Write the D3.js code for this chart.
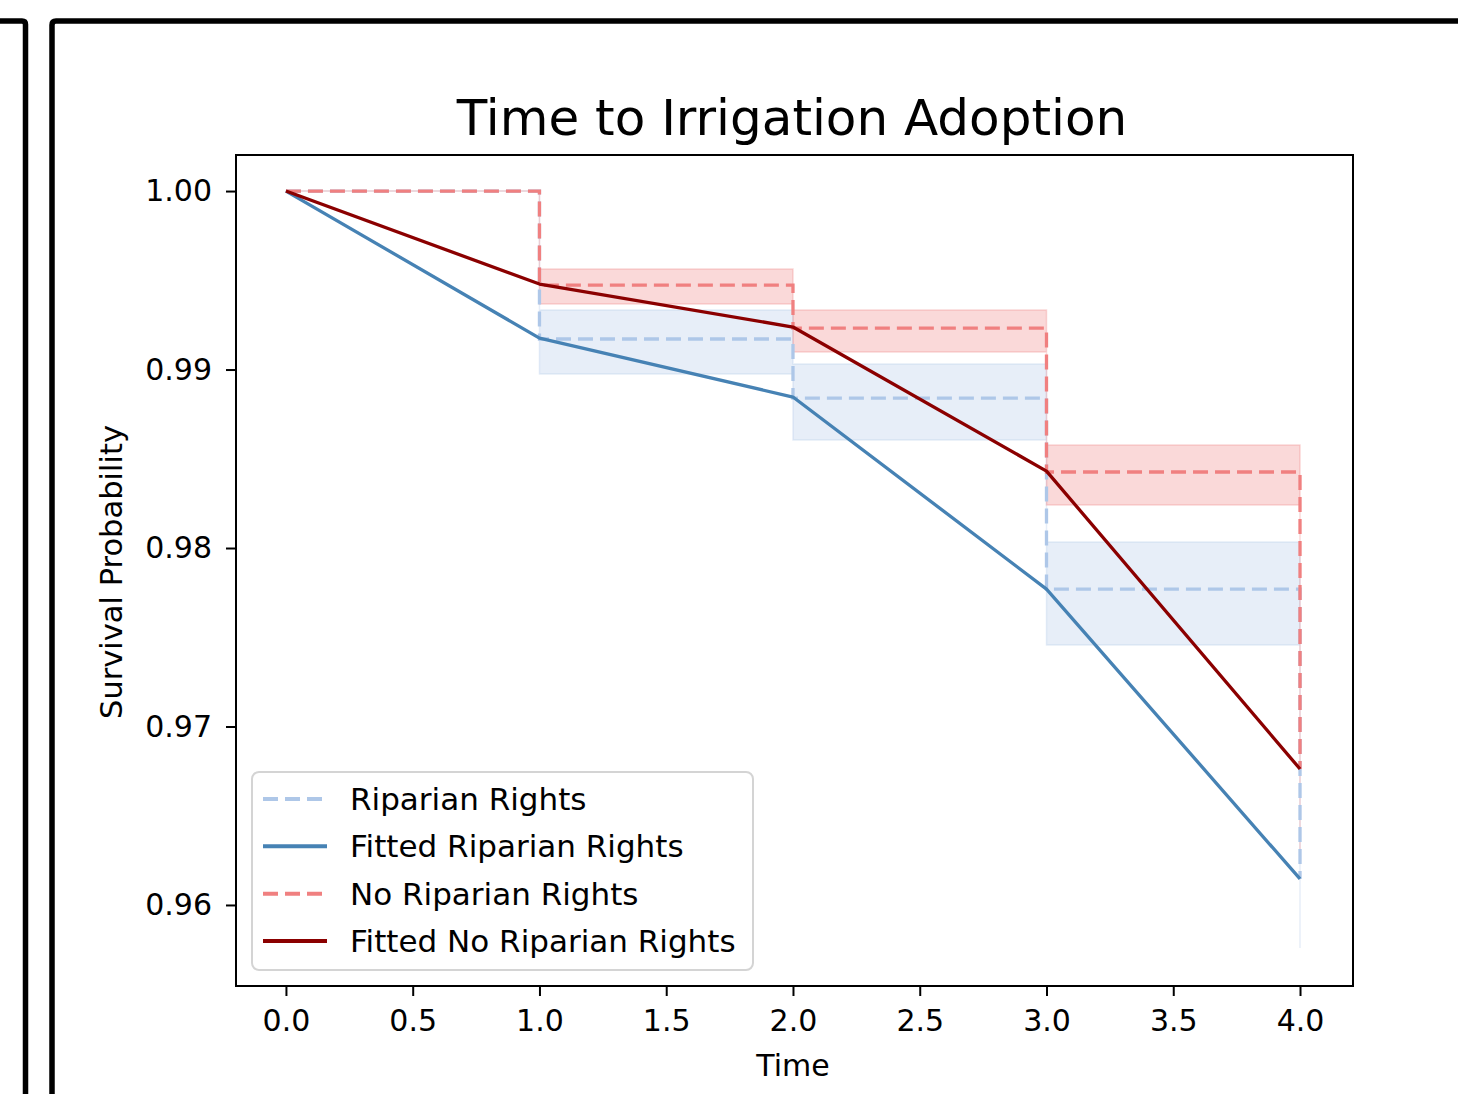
<!DOCTYPE html>
<html>
<head>
<meta charset="utf-8">
<script src="https://cdn.jsdelivr.net/npm/d3@7"></script>
<style>
	html, body { margin: 0; padding: 0; background: #fff; }
	svg { display: block; font-family: 'DejaVu Sans', sans-serif; }
</style>
</head>
<body>
<svg width="1458" height="1094"></svg>
<script>
/* eslint-disable indent */

const chartTitle = 'Time to Irrigation Adoption';
const xLabel = 'Time';
const yLabel = 'Survival Probability';

const times = [0, 1, 2, 3, 4];
const xTicks = [0, 0.5, 1, 1.5, 2, 2.5, 3, 3.5, 4];
const yTicks = [0.96, 0.97, 0.98, 0.99, 1.00];

// Kaplan-Meier estimates with confidence bands, plus fitted curves
const kmRiparian = [1.0, 0.99171, 0.98840, 0.97770, 0.96146];
const kmRiparianLower = [1.0, 0.98975, 0.98605, 0.97457, 0.95759];
const kmRiparianUpper = [1.0, 0.99333, 0.99031, 0.98034, 0.96550];
const fitRiparian = [1.0, 0.99176, 0.98846, 0.97770, 0.96146];

const kmNoRiparian = [1.0, 0.99473, 0.99232, 0.98426, 0.96762];
const kmNoRiparianLower = [1.0, 0.99367, 0.99098, 0.98241, 0.96300];
const kmNoRiparianUpper = [1.0, 0.99563, 0.99333, 0.98577, 0.97150];
const fitNoRiparian = [1.0, 0.99479, 0.99238, 0.98431, 0.96762];

const legendLabels = ['Riparian Rights', 'Fitted Riparian Rights', 'No Riparian Rights', 'Fitted No Riparian Rights'];

const kmBlue = '#aec7e8';
const fitBlue = '#4682b4';
const kmRed = '#f08080';
const fitRed = '#8b0000';

const svg = d3.select('svg');

// outer page frames
svg.append('path')
	.attr('d', 'M0,21 H22 Q25.5,21 25.5,24.5 V1094')
	.attr('fill', 'none')
	.attr('stroke', '#000')
	.attr('stroke-width', 5.5);

svg.append('path')
	.attr('d', 'M1458,21 H56 Q52,21 52,25 V1094')
	.attr('fill', 'none')
	.attr('stroke', '#000')
	.attr('stroke-width', 5.5);

const box = { left: 236, right: 1353, top: 155, bottom: 986 };

const x = d3.scaleLinear()
	.domain([-0.197, 4.209])
	.range([box.left, box.right]);

const y = d3.scaleLinear()
	.domain([0.95546, 1.00202])
	.range([box.bottom, box.top]);

const plot = svg.append('g');

const series = [
	{ km: kmRiparian, lo: kmRiparianLower, hi: kmRiparianUpper, fit: fitRiparian, light: kmBlue, dark: fitBlue },
	{ km: kmNoRiparian, lo: kmNoRiparianLower, hi: kmNoRiparianUpper, fit: fitNoRiparian, light: kmRed, dark: fitRed },
];

const band = d3.area()
	.curve(d3.curveStepAfter)
	.x((d) => x(d.t))
	.y0((d) => y(d.lo))
	.y1((d) => y(d.hi));

const step = d3.line()
	.curve(d3.curveStepAfter)
	.x((d) => x(d.t))
	.y((d) => y(d.v));

const straight = d3.line()
	.x((d) => x(d.t))
	.y((d) => y(d.v));

series.forEach((s) => {
	const rows = times.map((t, i) => ({ t: t, lo: s.lo[i], hi: s.hi[i] }));
	plot.append('path')
		.attr('d', band(rows))
		.attr('fill', s.light)
		.attr('fill-opacity', 0.3)
		.attr('stroke', s.light)
		.attr('stroke-opacity', 0.3)
		.attr('stroke-width', 1.5);
});

series.forEach((s) => {
	plot.append('path')
		.attr('d', step(times.map((t, i) => ({ t: t, v: s.km[i] }))))
		.attr('fill', 'none')
		.attr('stroke', s.light)
		.attr('stroke-width', 3.3)
		.attr('stroke-dasharray', '15,7');

	plot.append('path')
		.attr('d', straight(times.map((t, i) => ({ t: t, v: s.fit[i] }))))
		.attr('fill', 'none')
		.attr('stroke', s.dark)
		.attr('stroke-width', 3.3)
		.attr('stroke-linejoin', 'round');
});

// axes frame
svg.append('rect')
	.attr('x', box.left)
	.attr('y', box.top)
	.attr('width', box.right - box.left)
	.attr('height', box.bottom - box.top)
	.attr('fill', 'none')
	.attr('stroke', '#000')
	.attr('stroke-width', 2);

const xAxis = svg.append('g')
	.attr('transform', `translate(0,${box.bottom})`)
	.call(d3.axisBottom(x)
		.tickValues(xTicks)
		.tickFormat(d3.format('.1f'))
		.tickSize(10)
		.tickPadding(14));

const yAxis = svg.append('g')
	.attr('transform', `translate(${box.left},0)`)
	.call(d3.axisLeft(y)
		.tickValues(yTicks)
		.tickFormat(d3.format('.2f'))
		.tickSize(10)
		.tickPadding(14));

[xAxis, yAxis].forEach((a) => {
	a.select('.domain').remove();
	a.selectAll('.tick line')
		.attr('stroke', '#000')
		.attr('stroke-width', 2);
	a.selectAll('.tick text')
		.attr('fill', '#000')
		.style('font-family', 'DejaVu Sans')
		.style('font-size', '30px');
});

svg.append('text')
	.attr('x', 792)
	.attr('y', 135)
	.attr('text-anchor', 'middle')
	.style('font-size', '50px')
	.text(chartTitle);

svg.append('text')
	.attr('x', 793)
	.attr('y', 1076)
	.attr('text-anchor', 'middle')
	.style('font-size', '30px')
	.text(xLabel);

svg.append('text')
	.attr('transform', 'translate(122,572) rotate(-90)')
	.attr('text-anchor', 'middle')
	.style('font-size', '30.5px')
	.text(yLabel);

// legend
const legend = svg.append('g');

legend.append('rect')
	.attr('x', 252)
	.attr('y', 772)
	.attr('width', 501)
	.attr('height', 198)
	.attr('rx', 7)
	.attr('fill', '#fff')
	.attr('fill-opacity', 0.8)
	.attr('stroke', '#d4d4d4')
	.attr('stroke-width', 2);

const legendStyles = [
	{ color: kmBlue, dash: '15,7' },
	{ color: fitBlue, dash: null },
	{ color: kmRed, dash: '15,7' },
	{ color: fitRed, dash: null },
];

const rowY = d3.scaleLinear()
	.domain([0, 3])
	.range([799, 941]);

const entry = legend.selectAll('g')
	.data(legendLabels)
	.enter()
		.append('g')
		.attr('transform', (d, i) => `translate(0,${rowY(i)})`);

entry.append('line')
	.attr('x1', 263)
	.attr('x2', 327)
	.attr('stroke', (d, i) => legendStyles[i].color)
	.attr('stroke-width', 4)
	.attr('stroke-dasharray', (d, i) => legendStyles[i].dash);

entry.append('text')
	.attr('x', 350)
	.attr('dy', '0.35em')
	.style('font-size', '31px')
	.text((d) => d);
</script>
</body>
</html>
